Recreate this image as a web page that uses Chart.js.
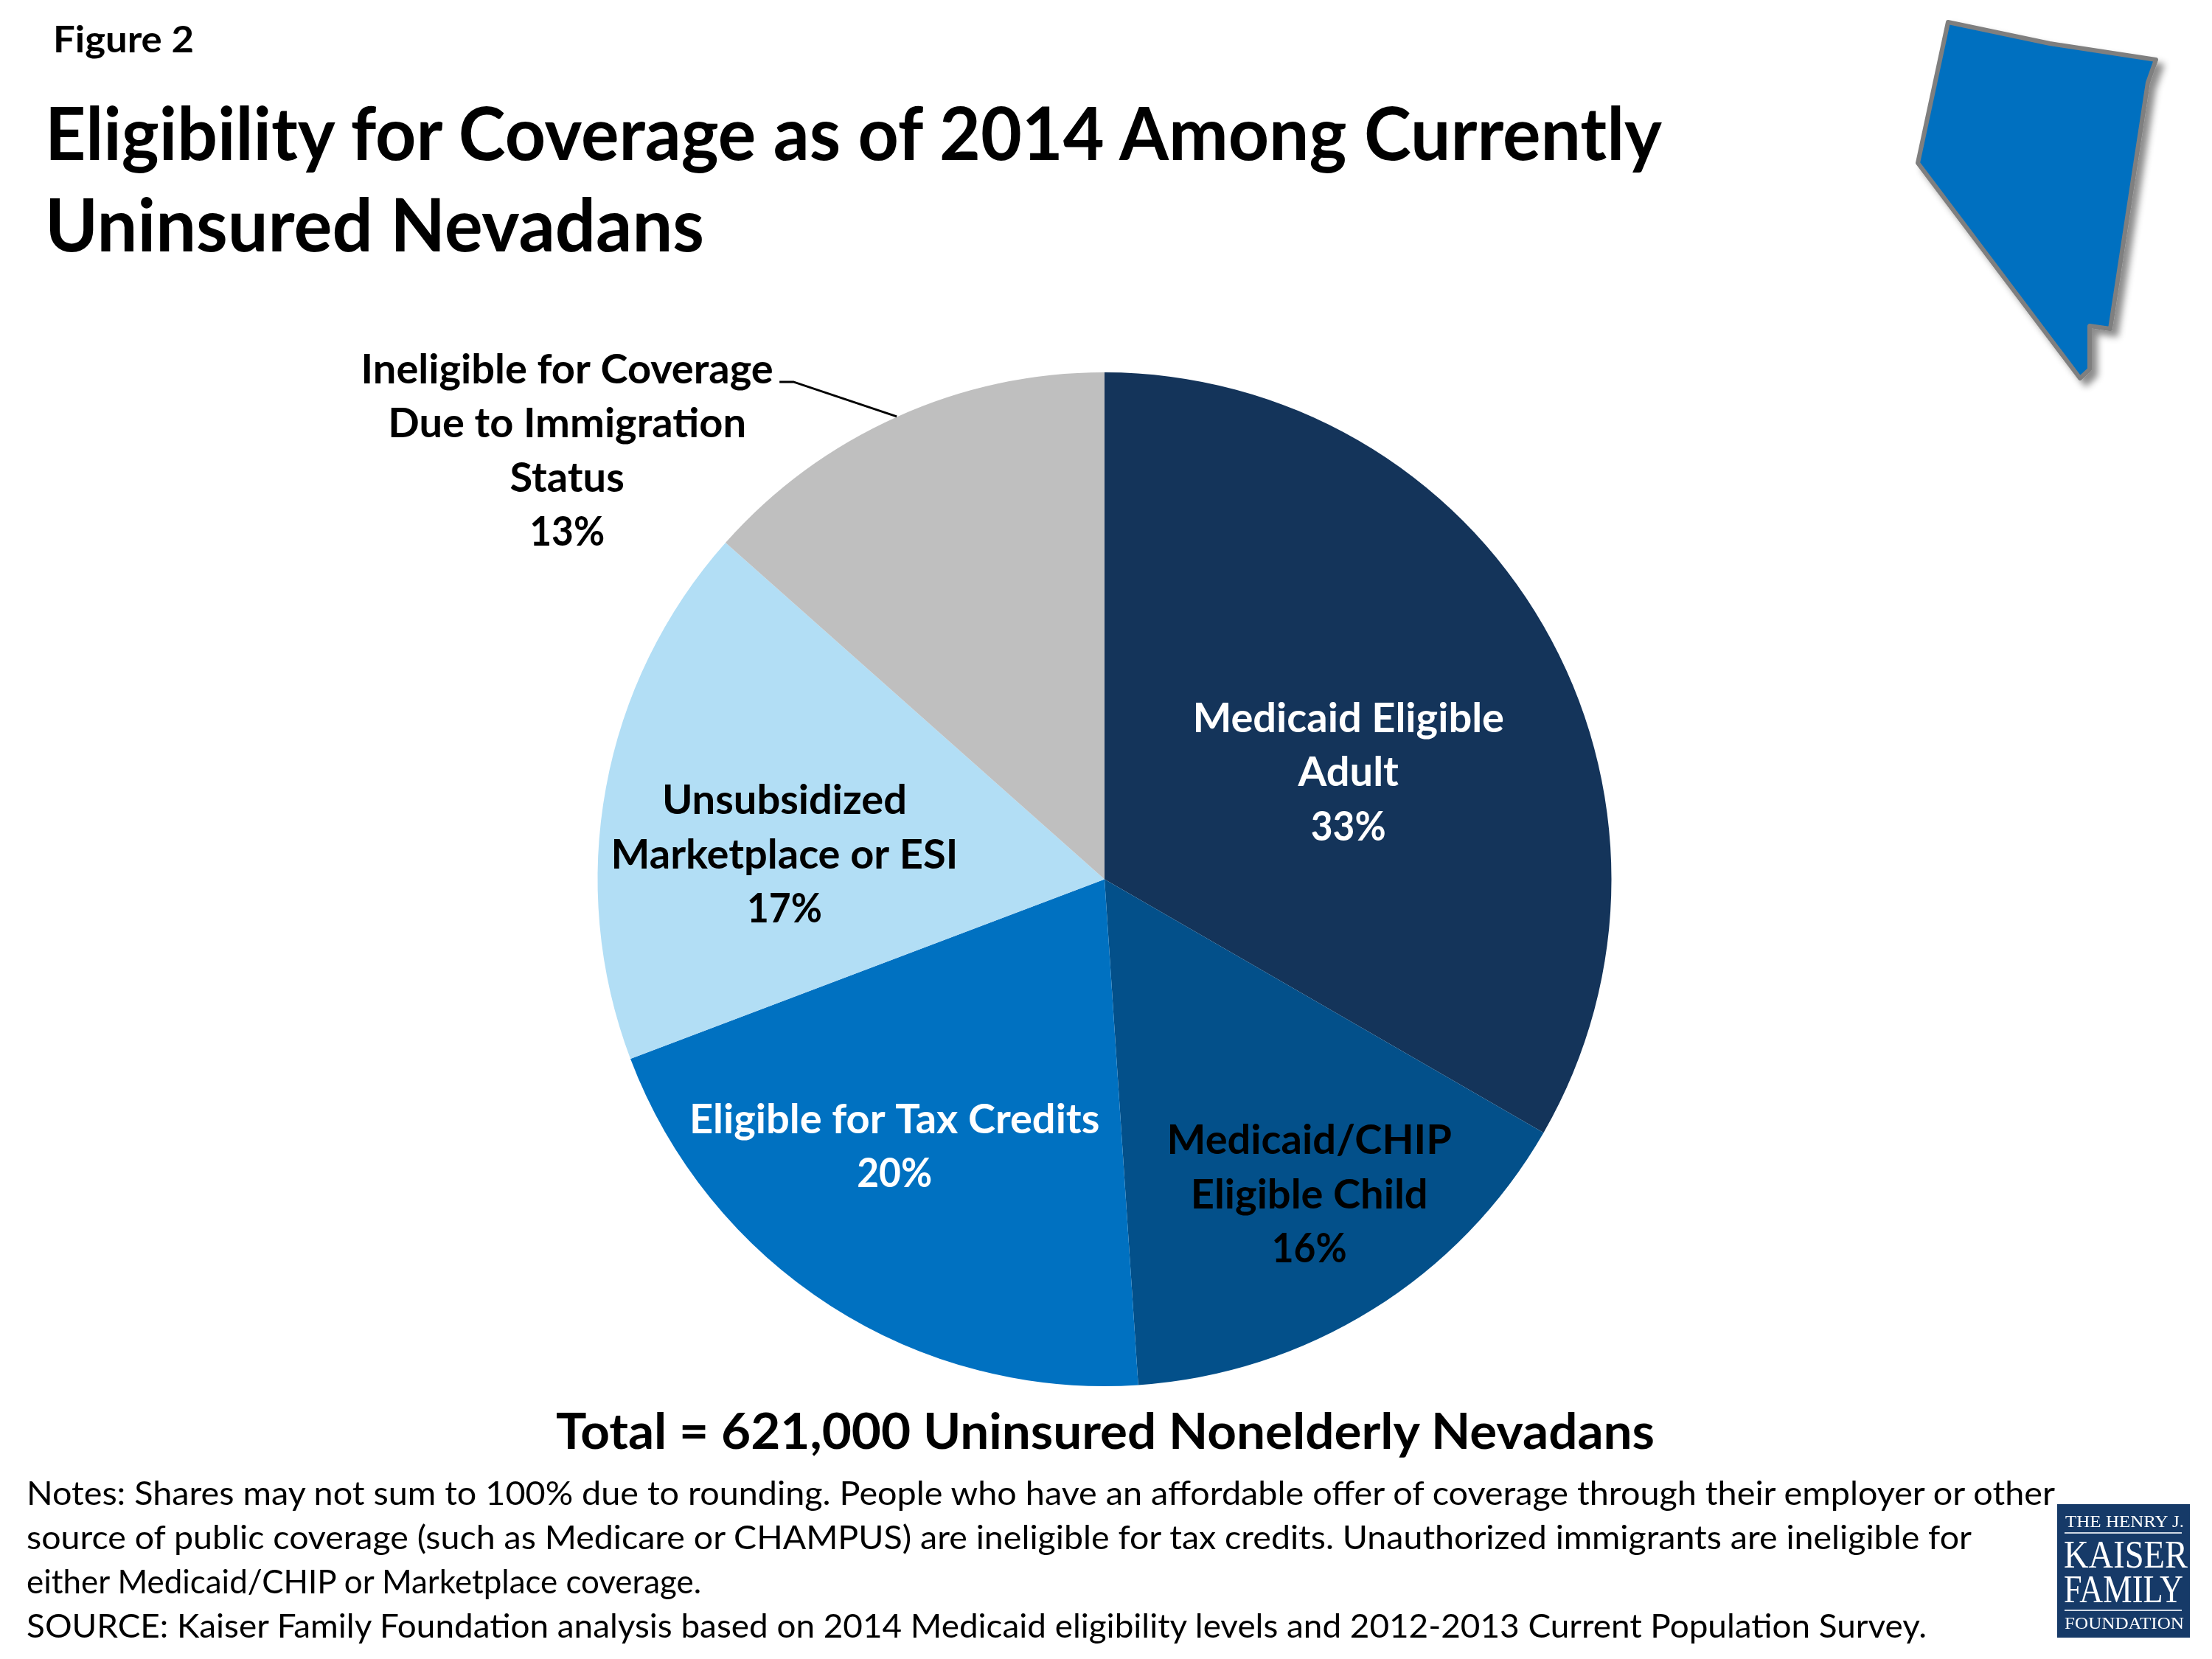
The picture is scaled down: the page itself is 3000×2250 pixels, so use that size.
<!DOCTYPE html>
<html>
<head>
<meta charset="utf-8">
<title>Figure 2</title>
<script src="https://cdn.jsdelivr.net/npm/chart.js"></script>
<style>
  html, body { margin: 0; padding: 0; background: #fff; }
  #wrap { position: relative; width: 3000px; height: 2250px; overflow: hidden; }
  #pie, #overlay { position: absolute; left: 0; top: 0; }
  #overlay text { font-family: Lato, sans-serif; fill: #000; }
  #overlay .b { font-weight: 700; }
  #overlay .logo { font-family: "Liberation Serif", serif; fill: #fff; }
</style>
</head>
<body>
<div id="wrap">
  <canvas id="pie" width="3000" height="2250"></canvas>
  <svg id="overlay" width="3000" height="2250" viewBox="0 0 3000 2250">
    <defs>
      <filter id="stateShadow" x="-20%" y="-20%" width="150%" height="150%">
        <feDropShadow dx="8" dy="8" stdDeviation="5" flood-color="#000" flood-opacity="0.45"/>
      </filter>
    </defs>
    <text class="b" x="72" y="71" font-size="50" textLength="191" lengthAdjust="spacingAndGlyphs">Figure 2</text>
    <text class="b" x="61" y="217" font-size="100" textLength="2193" lengthAdjust="spacingAndGlyphs">Eligibility for Coverage as of 2014 Among Currently</text>
    <text class="b" x="61" y="341" font-size="100" textLength="894" lengthAdjust="spacingAndGlyphs">Uninsured Nevadans</text>

    <polygon points="2642,30 2780,59 2924,81 2913,112 2862,446 2834,442 2834,501 2821,513 2601,221"
      fill="#0070C0" stroke="#7F7F7F" stroke-width="6" stroke-linejoin="round" filter="url(#stateShadow)"/>

    <text class="b" x="754" y="1965" font-size="66" textLength="1490" lengthAdjust="spacingAndGlyphs">Total = 621,000 Uninsured Nonelderly Nevadans</text>

    <text x="36" y="2041" font-size="44" textLength="2751" lengthAdjust="spacingAndGlyphs">Notes: Shares may not sum to 100% due to rounding. People who have an affordable offer of coverage through their employer or other</text>
    <text x="36" y="2101" font-size="44" textLength="2638" lengthAdjust="spacingAndGlyphs">source of public coverage (such as Medicare or CHAMPUS) are ineligible for tax credits. Unauthorized immigrants are ineligible for</text>
    <text x="36" y="2161" font-size="44" textLength="915" lengthAdjust="spacingAndGlyphs">either Medicaid/CHIP or Marketplace coverage.</text>
    <text x="36" y="2221" font-size="44" textLength="2577" lengthAdjust="spacingAndGlyphs">SOURCE: Kaiser Family Foundation analysis based on 2014 Medicaid eligibility levels and 2012-2013 Current Population Survey.</text>

    <rect x="2790" y="2040" width="180" height="181" fill="#163A68"/>
    <text class="logo" x="2801" y="2071" font-size="24" textLength="161" lengthAdjust="spacingAndGlyphs">THE HENRY J.</text>
    <rect x="2800" y="2078" width="159" height="2" fill="#cfd8e4"/>
    <text class="logo" x="2799" y="2126" font-size="53" textLength="168" lengthAdjust="spacingAndGlyphs">KAISER</text>
    <text class="logo" x="2799" y="2173" font-size="53" textLength="162" lengthAdjust="spacingAndGlyphs">FAMILY</text>
    <rect x="2800" y="2183" width="159" height="2" fill="#cfd8e4"/>
    <text class="logo" x="2800" y="2209" font-size="24" textLength="162" lengthAdjust="spacingAndGlyphs">FOUNDATION</text>
  </svg>
</div>
<script>
const categories = [
  'Medicaid Eligible Adult',
  'Medicaid/CHIP Eligible Child',
  'Eligible for Tax Credits',
  'Unsubsidized Marketplace or ESI',
  'Ineligible for Coverage Due to Immigration Status'
];
// slice sizes as measured off the pie, the printed labels are rounded
const shareValues = [33.33, 15.61, 20.3, 17.32, 13.44];
const shareLabels = ['33%', '16%', '20%', '17%', '13%'];
const labelLines = [
  ['Medicaid Eligible', 'Adult'],
  ['Medicaid/CHIP', 'Eligible Child'],
  ['Eligible for Tax Credits'],
  ['Unsubsidized', 'Marketplace or ESI'],
  ['Ineligible for Coverage', 'Due to Immigration', 'Status']
];
const sliceColors = ['#14345A', '#03508A', '#0071C1', '#B2DEF5', '#BFBFBF'];
const labelColors = ['#fff', '#000', '#fff', '#000', '#000'];
// label block position relative to each arc's center point
const labelOffsets = [[33, -28], [96, 81], [-99, 55], [-96, -26], [-588, -359]];

const LINE_HEIGHT = 73.5;
const PERCENT_WIDTH = 102;

const pieLabels = {
  id: 'pieLabels',
  afterDatasetsDraw(chart) {
    const ctx = chart.ctx;
    const arcs = chart.getDatasetMeta(0).data;
    ctx.save();
    ctx.font = '700 56px Lato, sans-serif';
    ctx.textAlign = 'center';
    ctx.textBaseline = 'alphabetic';
    arcs.forEach((arc, i) => {
      const c = arc.getCenterPoint();
      const x = c.x + labelOffsets[i][0];
      let y = c.y + labelOffsets[i][1];
      ctx.fillStyle = labelColors[i];
      labelLines[i].forEach(line => {
        ctx.fillText(line, x, y);
        y += LINE_HEIGHT;
      });
      ctx.fillText(shareLabels[i], x, y, PERCENT_WIDTH);
    });
    // leader for the grey slice
    const g = arcs[4].getCenterPoint();
    ctx.strokeStyle = '#000';
    ctx.lineWidth = 3;
    ctx.beginPath();
    ctx.moveTo(g.x - 300, g.y - 361);
    ctx.lineTo(g.x - 281, g.y - 361);
    ctx.lineTo(g.x - 141, g.y - 314);
    ctx.stroke();
    ctx.restore();
  }
};

new Chart(document.getElementById('pie').getContext('2d'), {
  type: 'pie',
  data: {
    labels: categories,
    datasets: [{
      data: shareValues,
      backgroundColor: sliceColors,
      borderWidth: 0
    }]
  },
  options: {
    responsive: false,
    animation: false,
    layout: { padding: { left: 809, right: 813, top: 505, bottom: 370 } },
    plugins: {
      legend: { display: false },
      tooltip: { enabled: false },
      title: { display: false }
    }
  },
  plugins: [pieLabels]
});
</script>
</body>
</html>
